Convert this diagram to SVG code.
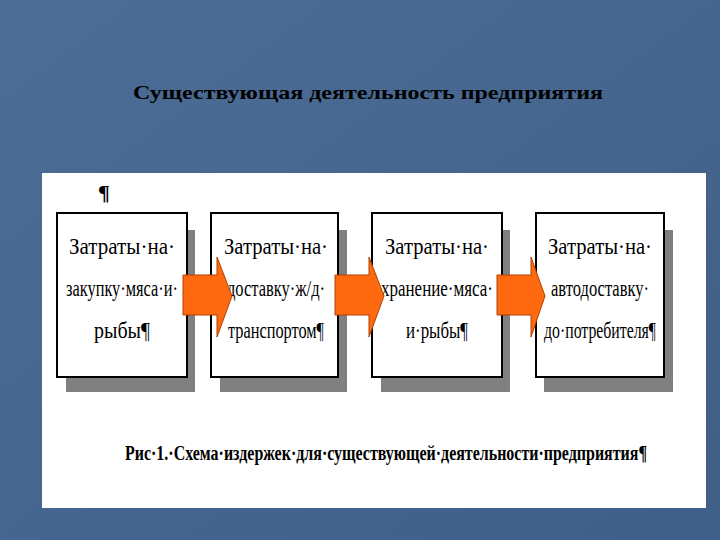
<svg xmlns="http://www.w3.org/2000/svg" width="720" height="540" viewBox="0 0 720 540">
<defs>
<linearGradient id="bg" x1="0" y1="0" x2="1" y2="1"><stop offset="0" stop-color="#4c6d96"/><stop offset="1" stop-color="#3f5f88"/></linearGradient>
<style>
.t{font-family:'Liberation Serif','Times New Roman',serif;font-size:24px;fill:#000;text-anchor:middle}
.box{fill:#fff;stroke:#000;stroke-width:2}
.sh{fill:#808080}
.ar{fill:#ff6a10;stroke:#b04000;stroke-width:1}
</style>
</defs>
<rect width="720" height="540" fill="url(#bg)"/>
<text x="368" y="99" font-family="Liberation Serif,serif" font-size="19" font-weight="bold" text-anchor="middle" textLength="470" lengthAdjust="spacingAndGlyphs">Существующая деятельность предприятия</text>
<rect x="42" y="173" width="664" height="335" fill="#fff"/>
<text x="98" y="200" font-family="Liberation Serif,serif" font-size="22" font-weight="bold">¶</text>
<g id="n1"><rect class="sh" x="66" y="230" width="129" height="162"/><rect class="box" x="57" y="213" width="130" height="164"/>
<text class="t" x="122" y="254" textLength="106" lengthAdjust="spacingAndGlyphs">Затраты·на·</text>
<text class="t" x="122" y="296" textLength="112" lengthAdjust="spacingAndGlyphs">закупку·мяса·и·</text>
<text class="t" x="122" y="338" textLength="56" lengthAdjust="spacingAndGlyphs">рыбы¶</text></g>
<g id="n2"><rect class="sh" x="220" y="230" width="127" height="162"/><rect class="box" x="211" y="213" width="127" height="164"/>
<text class="t" x="276" y="254" textLength="104" lengthAdjust="spacingAndGlyphs">Затраты·на·</text>
<text class="t" x="276" y="296" textLength="98" lengthAdjust="spacingAndGlyphs">доставку·ж/д·</text>
<text class="t" x="276" y="338" textLength="96" lengthAdjust="spacingAndGlyphs">транспортом¶</text></g>
<g id="n3"><rect class="sh" x="381" y="230" width="129" height="162"/><rect class="box" x="372" y="213" width="130" height="164"/>
<text class="t" x="437" y="254" textLength="104" lengthAdjust="spacingAndGlyphs">Затраты·на·</text>
<text class="t" x="437" y="296" textLength="112" lengthAdjust="spacingAndGlyphs">хранение·мяса·</text>
<text class="t" x="437" y="338" textLength="62" lengthAdjust="spacingAndGlyphs">и·рыбы¶</text></g>
<g id="n4"><rect class="sh" x="544" y="230" width="129" height="162"/><rect class="box" x="536" y="213" width="128" height="164"/>
<text class="t" x="600" y="254" textLength="104" lengthAdjust="spacingAndGlyphs">Затраты·на·</text>
<text class="t" x="600" y="296" textLength="98" lengthAdjust="spacingAndGlyphs">автодоставку·</text>
<text class="t" x="600" y="338" textLength="112" lengthAdjust="spacingAndGlyphs">до·потребителя¶</text></g>
<g id="connectors">
<path class="ar" d="M183 275H217V257L232 296L217 337V315H183Z"/>
<path class="ar" d="M335 275H369V257L384 296L369 337V315H335Z"/>
<path class="ar" d="M497 275H531V257L545 296L531 337V315H497Z"/>
</g>
<text x="386" y="460" font-family="Liberation Serif,serif" font-size="22" font-weight="bold" text-anchor="middle" textLength="522" lengthAdjust="spacingAndGlyphs">Рис·1.·Схема·издержек·для·существующей·деятельности·предприятия¶</text>
</svg>
